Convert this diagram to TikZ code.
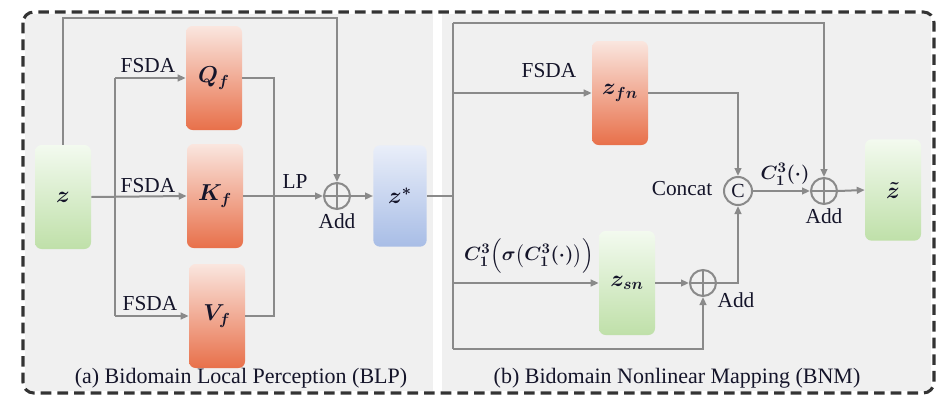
\documentclass[tikz,border=0pt]{standalone}
\usepackage{fontspec}
\usepackage{amsmath}
\setmainfont{Liberation Serif}
\usetikzlibrary{arrows.meta}

\definecolor{panel}{HTML}{F0F0F0}
\definecolor{wire}{HTML}{8A8A8A}
\definecolor{frame}{HTML}{333333}
\definecolor{redT}{HTML}{FAE6DF}
\definecolor{redB}{HTML}{E8704A}
\definecolor{grnT}{HTML}{F3FAEF}
\definecolor{grnB}{HTML}{BFE0A9}
\definecolor{bluT}{HTML}{E9EEF9}
\definecolor{bluB}{HTML}{A8BDE6}
\definecolor{ink}{HTML}{15152A}

\begin{document}
\begin{tikzpicture}[x=0.75pt,y=-0.75pt,
  font=\fontsize{16}{19}\selectfont, text=ink,
  blk/.style={rounded corners=5pt, draw=none, inner sep=0pt,
    minimum width=42pt, minimum height=78pt,
    font=\fontsize{17}{19}\selectfont\boldmath},
  redbox/.style={blk, top color=redT, bottom color=redB},
  grnbox/.style={blk, top color=grnT, bottom color=grnB},
  blubox/.style={blk, top color=bluT, bottom color=bluB},
  conn/.style={draw=wire, line width=1.5pt},
  arr/.style={conn, -{Triangle[length=6pt,width=5pt]}},
  addop/.style={circle, draw=wire, line width=1.5pt, minimum size=19.5pt,
    inner sep=0pt,
    path picture={\draw[wire, line width=1.5pt]
      (path picture bounding box.north) -- (path picture bounding box.south)
      (path picture bounding box.west) -- (path picture bounding box.east);}},
  catop/.style={circle, draw=wire, line width=1.5pt, minimum size=21pt,
    inner sep=0pt, font=\fontsize{15}{17}\selectfont},
  lbl/.style={inner sep=1pt},
  mlbl/.style={inner sep=1pt, font=\fontsize{15}{18}\selectfont\boldmath}
]
\useasboundingbox (0,0) rectangle (938,396);

% panels and dashed frame
\fill[panel] (25,14) rectangle (433,391);
\fill[panel] (442,14) rectangle (931,391);
\draw[frame, line width=2.3pt, dash pattern=on 8pt off 4.5pt, rounded corners=8pt]
  (23,12) rectangle (934,393);

% ---------- (a) BLP ----------
\node[grnbox] (z)  at (63,197)  {$z$};
\node[redbox] (Qf) at (214,78)  {$Q_f$};
\node[redbox] (Kf) at (215,196) {$K_f$};
\node[redbox] (Vf) at (217,316) {$V_f$};
\node[addop]  (add1) at (337,196) {};
\node[blubox, minimum width=40pt, minimum height=76pt] (zs) at (400,196) {$z^{*}$};

\coordinate (tl)  at (63,18);
\coordinate (jLt) at (115,78);
\coordinate (jLb) at (115,316);
\coordinate (qr)  at (274,78);

\draw[arr] (z.north) -- (tl) -| (add1.north);
\draw[arr] (z.east) -- (Kf.west);
\draw[conn] (jLt) -- (jLb);
\draw[arr] (jLt) -- (Qf.west);
\draw[arr] (jLb) -- (Vf.west);
\draw[conn] (Qf.east) -- (qr) |- (Vf.east);
\draw[arr] (Kf.east) -- (add1.west);
\draw[arr] (add1.east) -- (zs.west);

\node[lbl] (f1) at (148,66)  {FSDA};
\node[lbl] (f2) at (148,186) {FSDA};
\node[lbl] (f3) at (150,304) {FSDA};
\node[lbl] (lp) at (295,182) {LP};
\node[lbl] (a1) at (337,221) {Add};
\node[lbl, font=\fontsize{16.5}{19}\selectfont] (capa) at (241,378) {(a) Bidomain Local Perception (BLP)};

% ---------- (b) BNM ----------
\node[redbox] (zfn) at (620,93)  {$z_{fn}$};
\node[grnbox] (zsn) at (627,283) {$z_{sn}$};
\node[catop]  (cat) at (738,191) {C};
\node[addop]  (add2) at (824,191) {};
\node[addop]  (add3) at (703,283) {};
\node[grnbox, minimum height=76pt] (zt) at (893,190) {$\tilde{z}$};

\coordinate (jR)  at (453,196);
\coordinate (jRt) at (453,23);
\coordinate (jRf) at (453,93);
\coordinate (jRs) at (453,283);
\coordinate (jRb) at (453,349);

\draw[conn] (zs.east) -- (jR);
\draw[conn] (jRt) -- (jRb);
\draw[arr] (jRt) -| (add2.north);
\draw[arr] (jRf) -- (zfn.west);
\draw[arr] (zfn.east) -| (cat.north);
\draw[arr] (jRs) -- (zsn.west);
\draw[arr] (zsn.east) -- (add3.west);
\draw[arr] (add3.east) -| (cat.south);
\draw[arr] (jRb) -| (add3.south);
\draw[arr] (cat.east) -- (add2.west);
\draw[arr] (add2.east) -- (zt.west);

\node[lbl] (f4) at (549,71)  {FSDA};
\node[lbl] (cc) at (682,189) {Concat};
\node[mlbl] (c1) at (785,174) {$C_1^3(\cdot)$};
\node[lbl] (a2) at (824,216) {Add};
\node[lbl] (a3) at (736,300) {Add};
\node[mlbl] (nl) at (529,256) {$C_1^3\Bigl(\sigma\bigl(C_1^3(\cdot)\bigr)\Bigr)$};
\node[lbl, font=\fontsize{16.5}{19}\selectfont] (capb) at (677,378) {(b) Bidomain Nonlinear Mapping (BNM)};
\end{tikzpicture}
\end{document}
